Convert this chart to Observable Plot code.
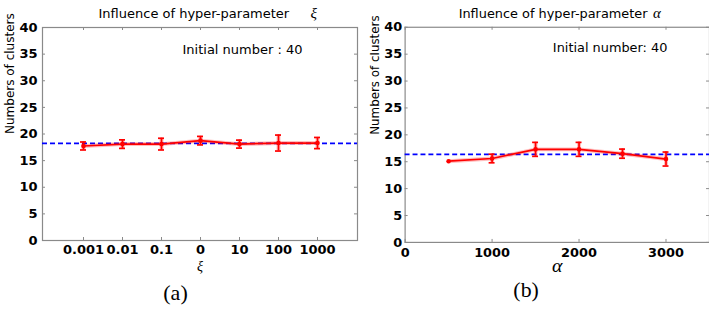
<!DOCTYPE html>
<html><head><meta charset="utf-8">
<script src="https://cdn.jsdelivr.net/npm/d3@7"></script>
<script src="https://cdn.jsdelivr.net/npm/@observablehq/plot@0.6"></script>
<style>
body{margin:0;background:#fff;width:709px;height:309px;overflow:hidden;position:relative;font-family:"DejaVu Sans";}
#a,#b{position:absolute;top:0;}
#a{left:0}#b{left:360px}
</style></head><body>
<div id="a"></div><div id="b"></div>
<script>
// ---- data ----
const xiLabels = ["0.001","0.01","0.1","0","10","100","1000"];
const xiMeans  = [17.75, 18.1, 18.1, 18.75, 18.1, 18.3, 18.3];
const xiErrs   = [0.75, 0.8, 1.1, 0.8, 0.75, 1.5, 1.05];
const xiAverage = 18.25;

const alphaValues = [500, 1000, 1500, 2000, 2500, 3000];
const alphaMeans  = [15.1, 15.6, 17.3, 17.3, 16.5, 15.5];
const alphaErrs   = [0, 0.8, 1.3, 1.3, 0.85, 1.3];
const alphaAverage = 16.35;
const alphaTicks = [0, 1000, 2000, 3000];

const yTicks = [0, 5, 10, 15, 20, 25, 30, 35, 40];

const titleA = "Influence of hyper-parameter";
const titleB = "Influence of hyper-parameter";
const noteA = "Initial number : 40";
const noteB = "Initial number: 40";
const yLabel = "Numbers of clusters";

const dataA = xiLabels.map((k, i) => ({x: k, m: xiMeans[i], e: xiErrs[i]}));
const dataB = alphaValues.map((k, i) => ({x: k, m: alphaMeans[i], e: alphaErrs[i]}));

const RED = "#ff0000", BLUE = "#0000ff", FRAME = "#8a8a8a";
const tickFont = {fontWeight: "bold", fontSize: 13, fontFamily: "DejaVu Sans", fill: "#000"};

function seriesMarks(data) {
  const withErr = data.filter(d => d.e > 0);
  return [
    Plot.line(data, {x: "x", y: "m", stroke: RED, strokeOpacity: 0.25, strokeWidth: 4}),
    Plot.ruleX(withErr, {x: "x", y1: d => d.m - d.e, y2: d => d.m + d.e, stroke: RED, strokeOpacity: 0.25, strokeWidth: 4}),
    Plot.line(data, {x: "x", y: "m", stroke: RED, strokeWidth: 1.7}),
    Plot.ruleX(withErr, {x: "x", y1: d => d.m - d.e, y2: d => d.m + d.e, stroke: RED, strokeWidth: 1.7}),
    Plot.ruleY(withErr, {x1: "x", x2: "x", y: d => d.m + d.e, insetLeft: -3, insetRight: -3, stroke: RED, strokeWidth: 1.7}),
    Plot.ruleY(withErr, {x1: "x", x2: "x", y: d => d.m - d.e, insetLeft: -3, insetRight: -3, stroke: RED, strokeWidth: 1.7}),
    Plot.dot(data, {x: "x", y: "m", r: 2.3, fill: RED})
  ];
}

function frameMarks(xTickValues, pw, ph) {
  return [
    Plot.ruleY(yTicks, {y: d => d, insetRight: pw - 3, stroke: FRAME}),
    Plot.ruleY(yTicks, {y: d => d, insetLeft: pw - 3, stroke: FRAME}),
    Plot.ruleX(xTickValues, {x: d => d, insetBottom: ph - 3, stroke: FRAME}),
    Plot.ruleX(xTickValues, {x: d => d, insetTop: ph - 3, stroke: FRAME}),
    Plot.frame({stroke: FRAME, strokeWidth: 1.2})
  ];
}

// ---- panel (a) ----
{
  const W = 360, H = 309, mL = 42, mR = 3, mT = 27, mB = 69;
  const pw = W - mL - mR, ph = H - mT - mB;
  const chart = Plot.plot({
    width: W, height: H, marginLeft: mL, marginRight: mR, marginTop: mT, marginBottom: mB,
    style: {fontFamily: "DejaVu Sans", background: "white", overflow: "visible"},
    x: {type: "point", domain: xiLabels, padding: 1},
    y: {domain: [0, 40]},
    marks: [
      ...frameMarks(xiLabels, pw, ph),
      Plot.axisY(yTicks, {tickSize: 0, tickPadding: 5, label: null, ...tickFont}),
      Plot.axisX(xiLabels, {tickSize: 0, tickPadding: 4, label: null, ...tickFont}),
      Plot.ruleY([xiAverage], {stroke: BLUE, strokeWidth: 1.8, strokeDasharray: "5,3"}),
      ...seriesMarks(dataA),
      Plot.text([titleA], {text: d => d, frameAnchor: "top-left", dx: 56, dy: -10, textAnchor: "start", lineAnchor: "bottom", fontSize: 13, fill: "#000"}),
      Plot.text(["ξ"], {text: d => d, frameAnchor: "top-left", dx: 268, dy: -10, textAnchor: "start", lineAnchor: "bottom", fontSize: 15, fontStyle: "italic", fontFamily: "Liberation Serif", fill: "#000"}),
      Plot.text([noteA], {text: d => d, frameAnchor: "top-left", dx: 140, dy: 26, textAnchor: "start", lineAnchor: "bottom", fontSize: 13, fill: "#000"}),
      Plot.text(["ξ"], {text: d => d, frameAnchor: "bottom", dx: 0, dy: 30, lineAnchor: "bottom", fontSize: 14, fontStyle: "italic", fontFamily: "Liberation Serif", fill: "#000"}),
      Plot.text(["(a)"], {text: d => d, frameAnchor: "bottom", dx: -24.5, dy: 59, lineAnchor: "bottom", fontSize: 22, fontFamily: "Liberation Serif", fill: "#000"}),
      Plot.text([yLabel], {text: d => d, frameAnchor: "left", dx: -32, dy: 0, rotate: -90, lineAnchor: "middle", fontSize: 12, fill: "#000"})
    ]
  });
  document.getElementById("a").append(chart);
}

// ---- panel (b) ----
{
  const W = 352, H = 309, mL = 45, mR = 0, mT = 27, mB = 65;
  const pw = W - mL - mR, ph = H - mT - mB;
  const chart = Plot.plot({
    width: W, height: H, marginLeft: mL, marginRight: mR, marginTop: mT, marginBottom: mB,
    style: {fontFamily: "DejaVu Sans", background: "transparent", overflow: "visible"},
    x: {domain: [0, 3500]},
    y: {domain: [0, 40]},
    marks: [
      ...frameMarks(alphaTicks, pw, ph),
      Plot.axisY(yTicks, {tickSize: 0, tickPadding: 3, label: null, ...tickFont}),
      Plot.axisX(alphaTicks, {tickSize: 0, tickPadding: 5, label: null, tickFormat: d => String(d), ...tickFont}),
      Plot.ruleY([alphaAverage], {stroke: BLUE, strokeWidth: 1.8, strokeDasharray: "5,3"}),
      ...seriesMarks(dataB),
      Plot.text([titleB], {text: d => d, frameAnchor: "top-left", dx: 54, dy: -9, textAnchor: "start", lineAnchor: "bottom", fontSize: 13, fill: "#000"}),
      Plot.text(["α"], {text: d => d, frameAnchor: "top-left", dx: 250, dy: -9, textAnchor: "start", lineAnchor: "bottom", fontSize: 15, fontStyle: "italic", fontFamily: "Liberation Serif", fill: "#000"}),
      Plot.text([noteB], {text: d => d, frameAnchor: "top-left", dx: 149, dy: 25, textAnchor: "start", lineAnchor: "bottom", fontSize: 13, fill: "#000"}),
      Plot.text(["α"], {text: d => d, frameAnchor: "bottom", dx: 0, dy: 30, lineAnchor: "bottom", fontSize: 20, fontStyle: "italic", fontFamily: "Liberation Serif", fill: "#000"}),
      Plot.text(["(b)"], {text: d => d, frameAnchor: "bottom", dx: -31.5, dy: 55, lineAnchor: "bottom", fontSize: 22, fontFamily: "Liberation Serif", fill: "#000"}),
      Plot.text([yLabel], {text: d => d, frameAnchor: "left", dx: -30, dy: 0, rotate: -90, lineAnchor: "middle", fontSize: 12, fill: "#000"})
    ]
  });
  document.getElementById("b").append(chart);
}
</script>
</body></html>
